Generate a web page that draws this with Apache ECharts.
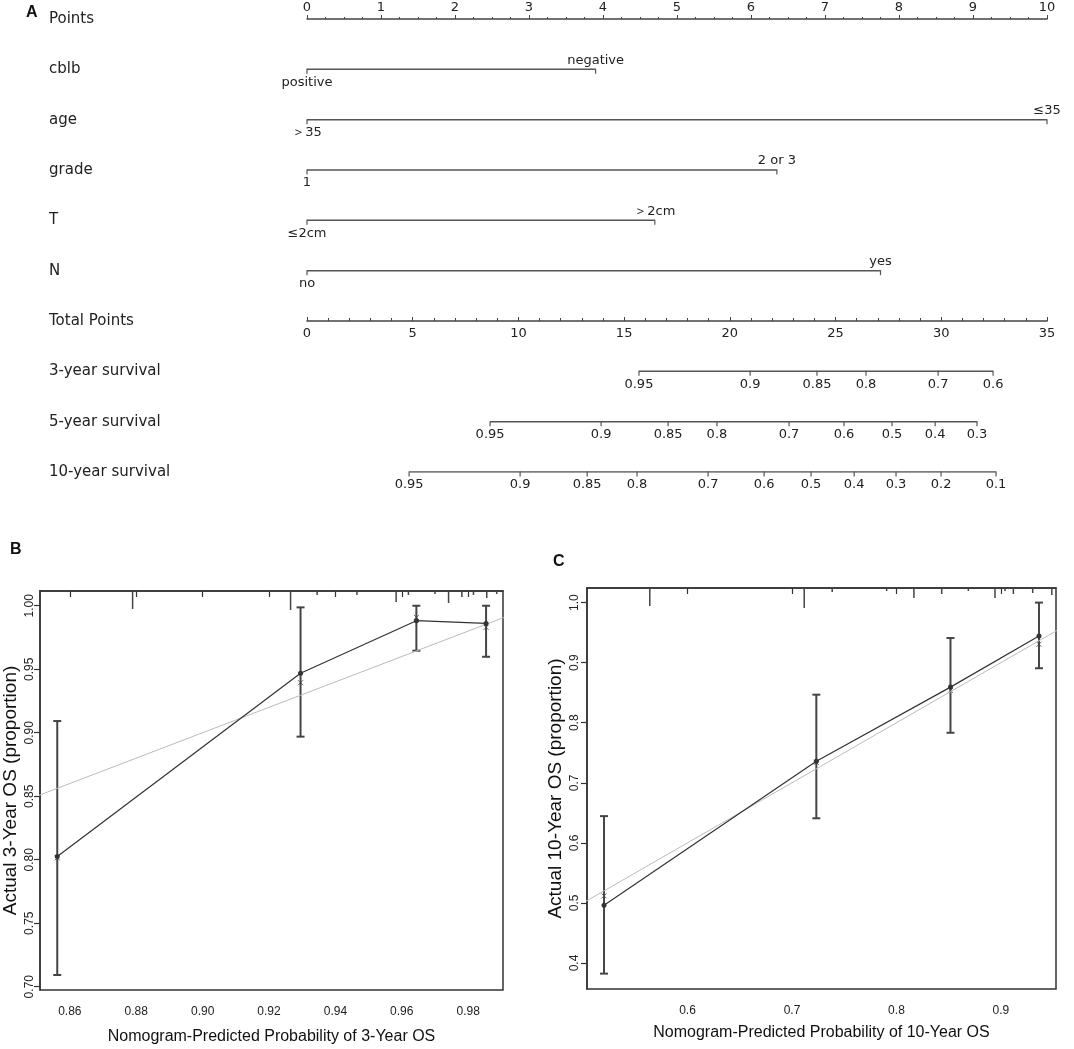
<!DOCTYPE html>
<html>
<head>
<meta charset="utf-8">
<script src="https://cdn.jsdelivr.net/npm/echarts@6/dist/echarts.min.js"></script>
<style>
  html, body { margin: 0; padding: 0; background: #fff; }
  #main { width: 1074px; height: 1049px; }
</style>
</head>
<body>
<div id="main"></div>
<script>
// ---- panel A: nomogram ----
var rowNames = ['Points', 'cblb', 'age', 'grade', 'T', 'N', 'Total Points',
  '3-year survival', '5-year survival', '10-year survival'];
var varLow = ['positive', '＞35', '1', '≤2cm', 'no'];
var varHigh = ['negative', '≤35', '2 or 3', '＞2cm', 'yes'];
var varPoints = [3.9, 10, 6.35, 4.7, 7.75];

var surv3Labels = ['0.95', '0.9', '0.85', '0.8', '0.7', '0.6'];
var surv3Total = [15.70, 20.96, 24.12, 26.44, 29.85, 32.45];
var surv5Labels = ['0.95', '0.9', '0.85', '0.8', '0.7', '0.6', '0.5', '0.4', '0.3'];
var surv5Total = [8.66, 13.91, 17.08, 19.39, 22.80, 25.40, 27.67, 29.71, 31.69];
var surv10Labels = ['0.95', '0.9', '0.85', '0.8', '0.7', '0.6', '0.5', '0.4', '0.3', '0.2', '0.1'];
var surv10Total = [4.83, 10.08, 13.25, 15.61, 18.97, 21.62, 23.84, 25.88, 27.86, 29.99, 32.59];

// ---- panel B: 3-year calibration ----
var predB = [0.8562, 0.9295, 0.9644, 0.9854];
var obsB = [0.8026, 0.9468, 0.9882, 0.9861];
var corrB = [0.8015, 0.9394, 0.9908, 0.9830];
var loB = [0.7092, 0.8969, 0.9646, 0.9598];
var hiB = [0.9092, 0.9987, 1.0, 1.0];
var rugXB = [0.8789, 0.9265, 0.9345, 0.9465, 0.9583, 0.962, 0.970, 0.9741, 0.9781, 0.9816, 0.9856, 0.9886];
var rugB = [4.5, 4.75, 1, 1, 2.75, 1, 0.75, 3, 1.5, 1, 1.75, 0.75];
var xTicksB = [0.86, 0.88, 0.90, 0.92, 0.94, 0.96, 0.98];
var yTicksB = [0.70, 0.75, 0.80, 0.85, 0.90, 0.95, 1.00];

// ---- panel C: 10-year calibration ----
var predC = [0.5201, 0.7233, 0.8517, 0.9364];
var obsC = [0.4962, 0.736, 0.8593, 0.9443];
var corrC = [0.5117, 0.734, 0.8538, 0.9305];
var loC = [0.3823, 0.6409, 0.7833, 0.8907];
var hiC = [0.6445, 0.8467, 0.941, 1.0];
var rugXC = [0.5639, 0.7117, 0.7385, 0.7906, 0.8167, 0.8433, 0.8688, 0.8943, 0.9039, 0.9119, 0.9304, 0.9487];
var rugC = [4.5, 5, 1, 0.75, 2.5, 1.5, 0.75, 2.5, 0.75, 1.5, 1.25, 1.75];
var xTicksC = [0.6, 0.7, 0.8, 0.9];
var yTicksC = [0.4, 0.5, 0.6, 0.7, 0.8, 0.9, 1.0];

var chart = echarts.init(document.getElementById('main'));

var dark = '#333';
var nomoFont = 'DejaVu Sans';

function zip(a, b) {
  return a.map(function (v, i) { return [v, b[i]]; });
}

function errorBar(params, api) {
  var x = api.value(0);
  var pLo = api.coord([x, api.value(1)]);
  var pHi = api.coord([x, api.value(2)]);
  var cap = 4;
  var st = { stroke: '#444', lineWidth: 2 };
  return {
    type: 'group',
    children: [
      { type: 'line', shape: { x1: pLo[0], y1: pLo[1], x2: pHi[0], y2: pHi[1] }, style: st },
      { type: 'line', shape: { x1: pLo[0] - cap, y1: pLo[1], x2: pLo[0] + cap, y2: pLo[1] }, style: st },
      { type: 'line', shape: { x1: pHi[0] - cap, y1: pHi[1], x2: pHi[0] + cap, y2: pHi[1] }, style: st }
    ]
  };
}

var series = [];

// variable rows
varPoints.forEach(function (p, i) {
  series.push({
    type: 'line', xAxisIndex: 0, yAxisIndex: 0, silent: true,
    symbol: 'rect', symbolSize: [1.2, 5], symbolOffset: [0, 2],
    lineStyle: { color: '#555', width: 1.5 }, itemStyle: { color: '#555' },
    label: { show: true, fontSize: 13, fontFamily: nomoFont, color: '#222', distance: 2 },
    data: [
      { value: [0, i + 1], label: { position: 'bottom', formatter: varLow[i] } },
      { value: [p, i + 1], label: { position: 'top', formatter: varHigh[i] } }
    ]
  });
});

// survival scales
[[surv3Total, surv3Labels], [surv5Total, surv5Labels], [surv10Total, surv10Labels]].forEach(function (s, k) {
  series.push({
    type: 'line', xAxisIndex: 1, yAxisIndex: 0, silent: true,
    symbol: 'rect', symbolSize: [1.2, 5], symbolOffset: [0, 2],
    lineStyle: { color: '#555', width: 1.5 }, itemStyle: { color: '#555' },
    label: { show: true, position: 'bottom', fontSize: 13, fontFamily: nomoFont, color: '#222', distance: 2,
      formatter: function (p) { return s[1][p.dataIndex]; } },
    data: s[0].map(function (v) { return [v, 7 + k]; })
  });
});

// calibration panels
function calSeries(xi, yi, ryi, pred, obs, corr, lo, hi, rugX, rug, diag) {
  return [
    { type: 'line', xAxisIndex: xi, yAxisIndex: yi, silent: true, showSymbol: false, clip: true,
      lineStyle: { color: '#bbb', width: 1 }, data: zip(diag, diag) },
    { type: 'bar', xAxisIndex: xi, yAxisIndex: ryi, silent: true, barWidth: 1.5,
      itemStyle: { color: '#444' }, data: zip(rugX, rug) },
    { type: 'custom', xAxisIndex: xi, yAxisIndex: yi, silent: true, renderItem: errorBar,
      encode: { x: 0, y: [1, 2] },
      data: pred.map(function (v, i) { return [v, lo[i], hi[i]]; }) },
    { type: 'line', xAxisIndex: xi, yAxisIndex: yi, silent: true,
      symbol: 'circle', symbolSize: 5,
      lineStyle: { color: dark, width: 1.2 }, itemStyle: { color: dark }, data: zip(pred, obs) },
    { type: 'scatter', xAxisIndex: xi, yAxisIndex: yi, silent: true,
      symbol: 'path://M0,0L10,10M10,0L0,10', symbolSize: 5,
      itemStyle: { color: 'transparent', borderColor: '#444', borderWidth: 1 }, data: zip(pred, corr) }
  ];
}
series = series.concat(calSeries(3, 2, 3, predB, obsB, corrB, loB, hiB, rugXB, rugB, [0.84, 1.0]));
series = series.concat(calSeries(4, 4, 5, predC, obsC, corrC, loC, hiC, rugXC, rugC, [0.5, 1.0]));

var calAxisLine = { show: true, lineStyle: { color: dark, width: 1.5 } };
var calTick = function (vals) {
  return { show: true, length: 6, lineStyle: { color: dark, width: 1.2 }, customValues: vals };
};

var option = {
  animation: false,
  backgroundColor: '#fff',
  textStyle: { fontFamily: 'Liberation Sans' },
  graphic: [
    { type: 'text', left: 26, top: 5, style: { text: 'A', font: 'bold 16px Liberation Sans', fill: '#111' } },
    { type: 'text', left: 10, top: 542, style: { text: 'B', font: 'bold 16px Liberation Sans', fill: '#111' } },
    { type: 'text', left: 553, top: 554, style: { text: 'C', font: 'bold 16px Liberation Sans', fill: '#111' } }
  ],
  grid: [
    { left: 307, width: 740, top: 19, height: 453 },
    { left: 307, width: 740, top: 0, height: 321 },
    { left: 39, width: 464, top: 591, height: 399, show: true, borderColor: dark, borderWidth: 1.5 },
    { left: 587, width: 469, top: 588, height: 401, show: true, borderColor: dark, borderWidth: 1.5 }
  ],
  xAxis: [
    { gridIndex: 0, type: 'value', min: 0, max: 10, interval: 1, position: 'top',
      axisLine: { show: true, onZero: false, lineStyle: { color: '#444', width: 1.5 } },
      axisTick: { show: true, length: 4, lineStyle: { color: '#444' } },
      minorTick: { show: true, splitNumber: 4, length: 2, lineStyle: { color: '#444' } },
      axisLabel: { margin: 5, fontSize: 13, fontFamily: nomoFont, color: '#222' },
      splitLine: { show: false } },
    { gridIndex: 0, type: 'value', min: 0, max: 35, show: false },
    { gridIndex: 1, type: 'value', min: 0, max: 35, interval: 5, position: 'bottom',
      axisLine: { show: true, onZero: false, lineStyle: { color: '#444', width: 1.5 } },
      axisTick: { show: true, inside: true, length: 4, lineStyle: { color: '#444' } },
      minorTick: { show: true, splitNumber: 5, length: 3, lineStyle: { color: '#444' } },
      axisLabel: { margin: 6, fontSize: 13, fontFamily: nomoFont, color: '#222' },
      splitLine: { show: false } },
    { gridIndex: 2, type: 'value', min: 0.851, max: 0.9905,
      axisLine: calAxisLine, axisTick: calTick(xTicksB), splitLine: { show: false },
      axisLabel: { customValues: xTicksB, margin: 16, fontSize: 12, color: '#222',
        formatter: function (v) { return v.toFixed(2); } },
      name: 'Nomogram-Predicted Probability of 3-Year OS', nameLocation: 'middle', nameGap: 39,
      nameTextStyle: { fontSize: 16, color: '#111' } },
    { gridIndex: 3, type: 'value', min: 0.5038, max: 0.9527,
      axisLine: calAxisLine, axisTick: calTick(xTicksC), splitLine: { show: false },
      axisLabel: { customValues: xTicksC, margin: 16, fontSize: 12, color: '#222',
        formatter: function (v) { return v.toFixed(1); } },
      name: 'Nomogram-Predicted Probability of 10-Year OS', nameLocation: 'middle', nameGap: 36,
      nameTextStyle: { fontSize: 16, color: '#111' } }
  ],
  yAxis: [
    { gridIndex: 0, type: 'value', min: 0, max: 9, interval: 1, inverse: true,
      axisLine: { show: false }, axisTick: { show: false }, splitLine: { show: false },
      axisLabel: { align: 'left', margin: 258, fontSize: 15, fontFamily: nomoFont, color: '#222',
        formatter: function (v) { return rowNames[v] || ''; } } },
    { gridIndex: 1, type: 'value', show: false },
    { gridIndex: 2, type: 'value', min: 0.6974, max: 1.0116,
      axisLine: calAxisLine, axisTick: calTick(yTicksB), splitLine: { show: false },
      axisLabel: { customValues: yTicksB, rotate: 90, margin: 4, fontSize: 12, color: '#222',
        formatter: function (v) { return v.toFixed(2); } },
      name: 'Actual 3-Year OS (proportion)', nameLocation: 'middle', nameGap: 20,
      nameTextStyle: { fontSize: 19, color: '#111' } },
    { gridIndex: 2, type: 'value', min: 0, max: 100, inverse: true, show: false },
    { gridIndex: 3, type: 'value', min: 0.3567, max: 1.0243,
      axisLine: calAxisLine, axisTick: calTick(yTicksC), splitLine: { show: false },
      axisLabel: { customValues: yTicksC, rotate: 90, margin: 6, fontSize: 12, color: '#222',
        formatter: function (v) { return v.toFixed(1); } },
      name: 'Actual 10-Year OS (proportion)', nameLocation: 'middle', nameGap: 22,
      nameTextStyle: { fontSize: 19, color: '#111' } },
    { gridIndex: 3, type: 'value', min: 0, max: 100, inverse: true, show: false }
  ],
  series: series
};

chart.setOption(option);
</script>
</body>
</html>
